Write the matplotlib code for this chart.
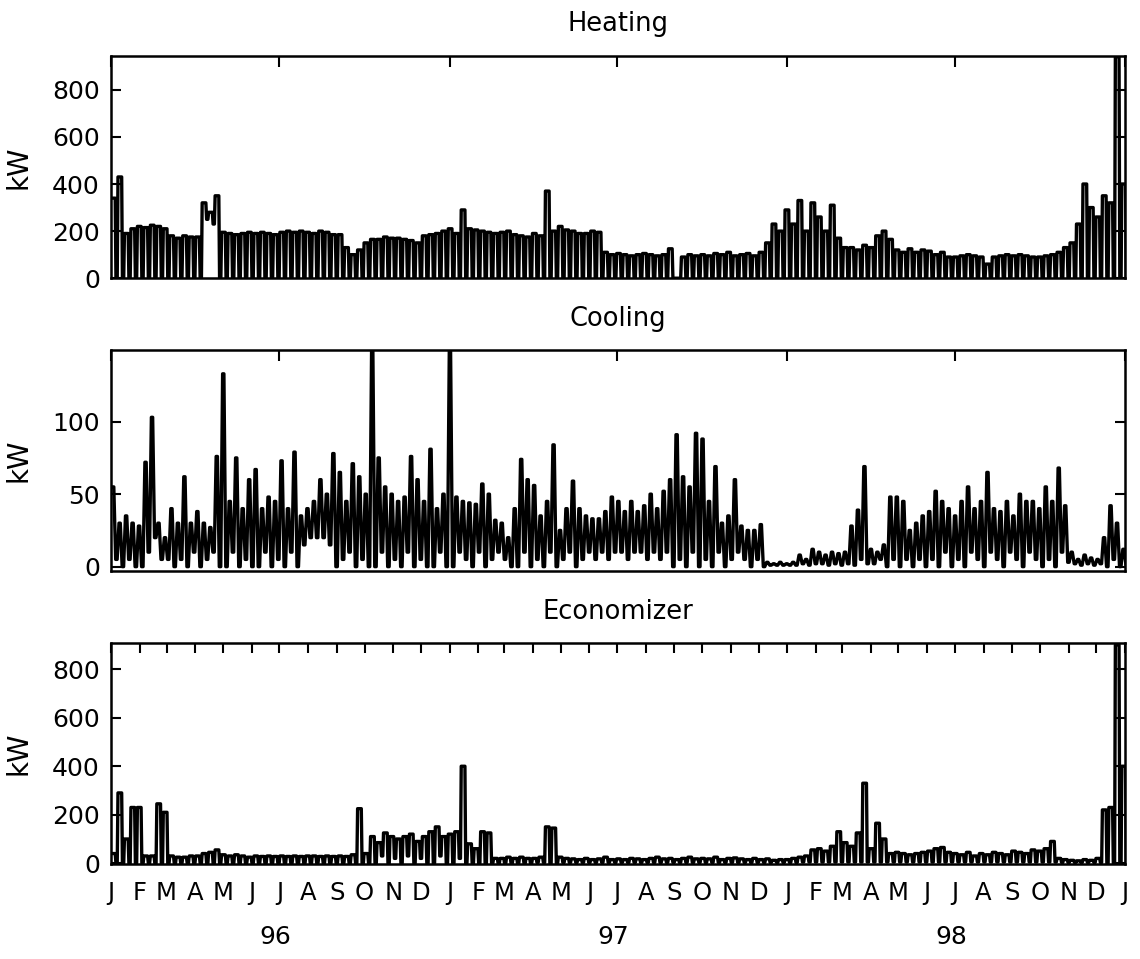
import datetime as dt
import numpy as np
import matplotlib
matplotlib.use("Agg")
import matplotlib.pyplot as plt
import matplotlib.dates as mdates
from matplotlib.transforms import blended_transform_factory

plt.rcParams['font.family'] = ['DejaVu Sans']

# ---------------- data: weekly weekday peak / weekend trough (kW) ----------------
heat_peak_96 = [340, 430, 190, 210, 220, 215, 225, 220, 210, 180, 170, 180, 175,
                175, 320, 280, 350, 195, 190, 185, 190, 195, 190, 195, 190, 185,
                195, 200, 195, 200, 195, 190, 200, 195, 185, 185, 130, 100, 120,
                150, 165, 165, 175, 170, 170, 165, 160, 150, 180, 185, 190, 200]
heat_peak_97 = [210, 190, 290, 210, 205, 200, 195, 190, 195, 200, 185, 180, 175,
                190, 180, 370, 200, 220, 205, 200, 190, 190, 200, 195, 110, 100,
                105, 100, 95, 100, 105, 100, 95, 100, 125, 0, 90, 100, 95,
                100, 95, 105, 100, 110, 95, 100, 105, 95, 110, 150, 230, 200]
heat_peak_98 = [290, 230, 330, 200, 320, 260, 200, 310, 170, 130, 130, 120, 140,
                130, 180, 200, 165, 120, 110, 125, 110, 120, 115, 100, 110, 90,
                90, 95, 100, 95, 90, 60, 90, 95, 100, 95, 100, 95, 90,
                90, 95, 100, 110, 130, 150, 230, 400, 300, 260, 350, 320, 940, 400]
heat_trough_96 = [0, 0, 0, 0, 0, 0, 0, 0, 0, 0, 0, 0, 0,
                  0, 250, 230, 0, 0, 0, 0, 0, 0, 0, 0, 0, 0,
                  0, 0, 0, 0, 0, 0, 0, 0, 0, 0, 0, 0, 0,
                  0, 0, 0, 0, 0, 0, 0, 0, 0, 0, 0, 0, 0]
heat_trough_97 = [0, 0, 0, 0, 0, 0, 0, 0, 0, 0, 0, 0, 0,
                  0, 0, 0, 0, 0, 0, 0, 0, 0, 0, 0, 0, 0,
                  0, 0, 0, 0, 0, 0, 0, 0, 0, 0, 0, 0, 0,
                  0, 0, 0, 0, 0, 0, 0, 0, 0, 0, 0, 0, 0]
heat_trough_98 = [0, 0, 0, 0, 0, 0, 0, 0, 0, 0, 0, 0, 0,
                  0, 0, 0, 0, 0, 0, 0, 0, 0, 0, 0, 0, 0,
                  0, 0, 0, 0, 0, 0, 0, 0, 0, 0, 0, 0, 0,
                  0, 0, 0, 0, 0, 0, 0, 0, 0, 0, 0, 0, 0, 0]

cool_peak_96 = [55, 30, 35, 30, 28, 72, 103, 30, 20, 40, 30, 62, 30,
                38, 30, 27, 76, 133, 45, 75, 40, 60, 67, 40, 48, 45,
                73, 40, 79, 35, 40, 45, 60, 50, 78, 65, 45, 71, 62,
                50, 150, 75, 55, 50, 45, 48, 76, 60, 45, 81, 40, 50]
cool_peak_97 = [150, 48, 45, 44, 43, 57, 50, 32, 30, 20, 40, 74, 60,
                56, 35, 45, 84, 25, 40, 59, 40, 35, 33, 33, 38, 48,
                45, 38, 45, 38, 42, 50, 40, 52, 60, 91, 62, 55, 92,
                88, 45, 69, 30, 35, 60, 28, 25, 25, 29, 3, 2, 3]
cool_peak_98 = [2, 3, 8, 5, 12, 10, 8, 10, 9, 10, 28, 39, 69,
                12, 10, 15, 48, 48, 45, 25, 30, 35, 38, 52, 45, 40,
                35, 45, 55, 40, 45, 65, 40, 38, 45, 35, 50, 45, 45,
                40, 55, 45, 68, 42, 10, 5, 8, 6, 5, 20, 42, 30, 12]
cool_trough_96 = [5, 0, 5, 0, 0, 10, 20, 5, 5, 0, 5, 0, 10,
                  0, 5, 10, 0, 0, 10, 0, 5, 0, 0, 10, 0, 5,
                  0, 10, 0, 15, 20, 20, 20, 15, 0, 5, 10, 0, 5,
                  0, 0, 10, 0, 5, 0, 10, 0, 5, 0, 0, 10, 0]
cool_trough_97 = [0, 10, 5, 0, 10, 0, 5, 10, 5, 0, 0, 10, 0,
                  5, 0, 10, 0, 5, 10, 0, 5, 10, 5, 10, 5, 10,
                  10, 5, 10, 10, 5, 10, 5, 10, 0, 5, 0, 10, 0,
                  5, 0, 10, 0, 5, 10, 5, 0, 5, 0, 1, 1, 1]
cool_trough_98 = [1, 1, 2, 1, 2, 2, 1, 2, 1, 2, 1, 5, 2,
                  2, 5, 0, 5, 0, 5, 0, 5, 0, 5, 0, 10, 0,
                  5, 0, 10, 5, 0, 10, 5, 0, 10, 5, 0, 10, 5,
                  0, 5, 0, 10, 3, 2, 1, 2, 1, 2, 0, 5, 0, 1]

econ_peak_96 = [40, 290, 100, 230, 230, 30, 30, 245, 210, 30, 25, 25, 30,
                30, 40, 45, 55, 35, 30, 35, 30, 25, 30, 28, 30, 28,
                30, 28, 30, 28, 30, 30, 28, 30, 28, 30, 28, 35, 225,
                40, 110, 85, 125, 110, 100, 110, 120, 90, 110, 130, 150, 110]
econ_peak_97 = [120, 130, 400, 80, 60, 130, 125, 20, 20, 25, 20, 25, 20,
                20, 25, 150, 145, 25, 20, 18, 15, 20, 15, 18, 25, 15,
                18, 15, 20, 18, 15, 20, 25, 18, 20, 15, 20, 25, 18,
                20, 18, 25, 15, 20, 22, 18, 15, 20, 15, 18, 12, 15]
econ_peak_98 = [15, 20, 25, 30, 55, 60, 50, 70, 130, 85, 70, 125, 330,
                60, 165, 100, 40, 45, 40, 35, 40, 45, 50, 60, 65, 45,
                40, 35, 45, 30, 40, 35, 45, 40, 35, 50, 45, 40, 55,
                50, 60, 90, 20, 15, 12, 10, 15, 12, 20, 220, 230, 900, 400]
econ_trough_96 = [0, 0, 0, 0, 0, 0, 0, 0, 0, 0, 0, 0, 0,
                  0, 0, 0, 0, 0, 0, 0, 0, 0, 0, 0, 0, 0,
                  0, 0, 0, 0, 0, 0, 0, 0, 0, 0, 0, 0, 0,
                  0, 0, 30, 0, 20, 0, 30, 0, 20, 0, 0, 30, 0]
econ_trough_97 = [0, 20, 0, 0, 0, 0, 0, 0, 0, 0, 0, 0, 0,
                  3, 3, 0, 0, 3, 3, 3, 3, 3, 3, 3, 3, 3,
                  3, 3, 3, 3, 3, 3, 3, 3, 3, 3, 3, 3, 3,
                  3, 3, 3, 3, 3, 3, 3, 3, 3, 3, 3, 3, 3]
econ_trough_98 = [3, 3, 5, 5, 5, 5, 5, 5, 5, 5, 5, 5, 5,
                  5, 5, 5, 5, 5, 5, 5, 5, 5, 5, 5, 5, 5,
                  5, 5, 5, 5, 5, 5, 5, 5, 5, 5, 5, 5, 5,
                  5, 5, 5, 3, 3, 3, 3, 3, 3, 3, 0, 0, 0, 0]

month_letters = ['J', 'F', 'M', 'A', 'M', 'J', 'J', 'A', 'S', 'O', 'N', 'D'] * 3 + ['J']
year_labels = ['96', '97', '98']
panel_titles = ['Heating', 'Cooling', 'Economizer']

# ---------------- helpers ----------------
t_start = mdates.date2num(dt.datetime(1996, 1, 1))
t_end = mdates.date2num(dt.datetime(1999, 1, 1))


def weekly_series(peaks, troughs, shape):
    """shape: day offsets inside a week for (peak, peak, trough, trough)."""
    xs, ys = [], []
    for k, (p, t) in enumerate(zip(peaks, troughs)):
        d = 7 * k
        xs += [d + s for s in shape]
        ys += [p, p, t, t]
    return t_start + np.array(xs), np.array(ys)


pulse_shape = (0.5, 4.5, 5.3, 6.7)
spike_shape = (1.6, 3.0, 5.0, 6.6)

heat_x, heat_y = weekly_series(heat_peak_96 + heat_peak_97 + heat_peak_98,
                               heat_trough_96 + heat_trough_97 + heat_trough_98, pulse_shape)
cool_x, cool_y = weekly_series(cool_peak_96 + cool_peak_97 + cool_peak_98,
                               cool_trough_96 + cool_trough_97 + cool_trough_98, spike_shape)
econ_x, econ_y = weekly_series(econ_peak_96 + econ_peak_97 + econ_peak_98,
                               econ_trough_96 + econ_trough_97 + econ_trough_98, pulse_shape)

month_ticks = [mdates.date2num(dt.datetime(1996 + m // 12, m % 12 + 1, 1)) for m in range(37)]
half_year_ticks = month_ticks[::6]

# ---------------- figure ----------------
fig = plt.figure(figsize=(11.4, 9.59), dpi=100)
ax1 = fig.add_axes([0.0974, 0.7099, 0.8895, 0.2318])
ax2 = fig.add_axes([0.0974, 0.4049, 0.8895, 0.2301])
ax3 = fig.add_axes([0.0974, 0.0991, 0.8895, 0.2301])

lw = 2.4
ax1.plot(heat_x, heat_y, color='black', lw=lw)
ax2.plot(cool_x, cool_y, color='black', lw=lw)
ax3.plot(econ_x, econ_y, color='black', lw=lw)

ax1.set_ylim(0, 944)
ax2.set_ylim(-2.8, 149.4)
ax3.set_ylim(-3, 907)
ax1.set_yticks([0, 200, 400, 600, 800])
ax2.set_yticks([0, 50, 100])
ax3.set_yticks([0, 200, 400, 600, 800])

pads = [18, 17, 17.5]
for ax, title, pad in zip([ax1, ax2, ax3], panel_titles, pads):
    ax.set_xlim(t_start, t_end)
    for s in ax.spines.values():
        s.set_linewidth(1.8)
    ax.tick_params(axis='y', direction='in', length=7, width=1.5,
                   left=True, right=True, labelsize=18, pad=8)
    ax.set_title(title, fontsize=18.5, pad=pad)
    ax.set_ylabel('kW', fontsize=20)
    ax.yaxis.set_label_coords(-0.077, 0.5)

for ax in [ax1, ax2]:
    ax.set_xticks(half_year_ticks)
    ax.tick_params(axis='x', direction='in', length=8, width=1.5,
                   top=True, bottom=False, labelbottom=False)

ax3.set_xticks(month_ticks)
ax3.set_xticklabels(month_letters)
ax3.tick_params(axis='x', direction='in', length=7, width=1.5,
                top=True, bottom=False, labelsize=17.5, pad=12)

trans = blended_transform_factory(ax3.transData, ax3.transAxes)
for i, lab in enumerate(year_labels):
    xpos = mdates.date2num(dt.datetime(1996 + i, 6, 27))
    ax3.text(xpos, -0.33, lab, transform=trans, ha='center', va='center', fontsize=18)

fig.savefig('out.png', dpi=100)
